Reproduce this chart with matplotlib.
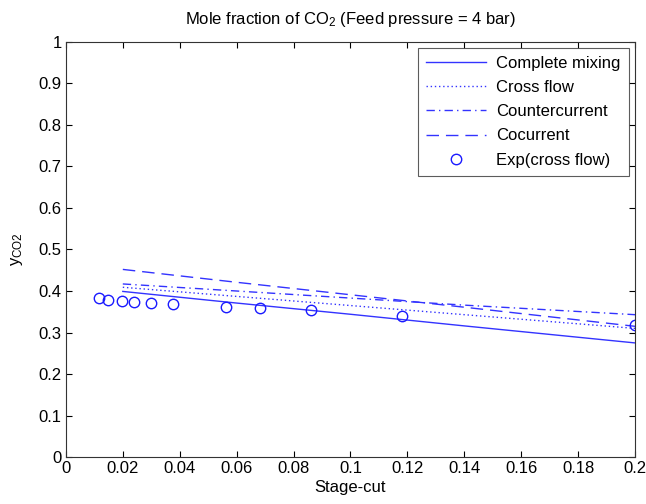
import numpy as np
import matplotlib.pyplot as plt

plt.rcParams['font.family'] = ['Liberation Sans', 'DejaVu Sans']
plt.rcParams['mathtext.fontset'] = 'custom'
plt.rcParams['mathtext.rm'] = 'Liberation Sans'
plt.rcParams['mathtext.it'] = 'Liberation Sans'

# model curves (stage-cut vs CO2 mole fraction in permeate)
theta = [0.02, 0.06, 0.10, 0.14, 0.20]
complete_mixing = [0.399, 0.371, 0.344, 0.316, 0.275]
cross_flow = [0.409, 0.387, 0.365, 0.343, 0.310]
countercurrent = [0.417, 0.400, 0.383, 0.366, 0.343]
cocurrent = [0.452, 0.421, 0.391, 0.361, 0.315]

# experimental data (cross flow)
exp_theta = [0.0116, 0.0148, 0.0198, 0.0239, 0.0299, 0.0375,
             0.0564, 0.0681, 0.0860, 0.1182, 0.2]
exp_y = [0.382, 0.378, 0.376, 0.373, 0.371, 0.368,
         0.362, 0.360, 0.354, 0.340, 0.319]

col = '#3333ff'
fs = 12

fig = plt.figure(figsize=(6.46, 5.04), dpi=100)
ax = fig.add_axes([0.102, 0.093, 0.881, 0.824])

ax.plot(theta, complete_mixing, '-', color=col, lw=1, label='Complete mixing')
ax.plot(theta, cross_flow, color=col, lw=1, dashes=(1, 2), label='Cross flow')
ax.plot(theta, countercurrent, color=col, lw=1, dashes=(6, 3, 1, 3), label='Countercurrent')
ax.plot(theta, cocurrent, color=col, lw=1, dashes=(9, 5), label='Cocurrent')
ax.plot(exp_theta, exp_y, 'o', mfc='none', mec='#1a1aff', ms=7.5, mew=1,
        label='Exp(cross flow)')

ax.set_xlim(0, 0.2)
ax.set_ylim(0, 1)
ax.set_xticks(np.arange(0, 0.201, 0.02))
ax.set_xticklabels(['0', '0.02', '0.04', '0.06', '0.08', '0.1', '0.12',
                    '0.14', '0.16', '0.18', '0.2'])
ax.set_yticks(np.arange(0, 1.01, 0.1))
ax.set_yticklabels(['0', '0.1', '0.2', '0.3', '0.4', '0.5', '0.6', '0.7',
                    '0.8', '0.9', '1'])
ax.tick_params(direction='in', top=True, right=True, length=4, labelsize=fs,
               width=0.8, pad=3)
for s in ax.spines.values():
    s.set_linewidth(0.8)
    s.set_color('#333333')

ax.set_xlabel('Stage-cut', fontsize=fs, labelpad=3)
ax.set_ylabel('y$_{\\mathrm{CO2}}$', fontsize=fs, labelpad=10)
ax.set_title('Mole fraction of CO$_2$ (Feed pressure = 4 bar)', fontsize=fs, pad=13)

leg = ax.legend(loc='upper right', fontsize=fs, frameon=True, fancybox=False,
                edgecolor='#333333', handlelength=3.6, borderpad=0.5,
                labelspacing=0.55, handletextpad=0.6, borderaxespad=0.35)
leg.get_frame().set_linewidth(0.8)

fig.savefig('out.png', dpi=100)
